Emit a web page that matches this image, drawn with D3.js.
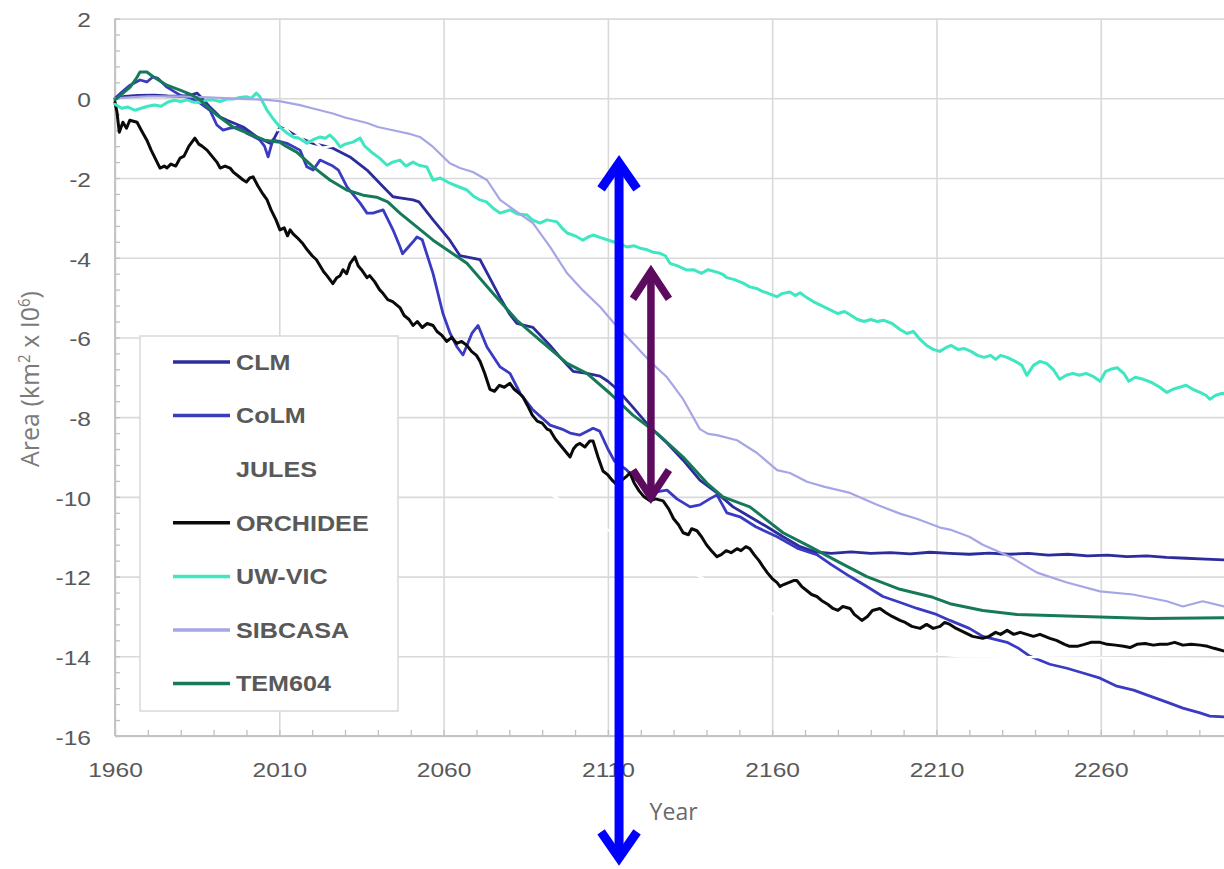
<!DOCTYPE html>
<html>
<head>
<meta charset="utf-8">
<script src="https://cdn.jsdelivr.net/npm/d3@7"></script>
<style>
  html, body { margin: 0; padding: 0; background: #ffffff; }
  svg { display: block; }
</style>
</head>
<body>
<svg id="chart" width="1224" height="869"></svg>
<script>
// ---- Data: simulated permafrost area change (km² x 10⁶), [year, value] ----
const seriesNames = ["CLM", "CoLM", "JULES", "ORCHIDEE", "UW-VIC", "SIBCASA", "TEM604"];

const clm = [[1960,0],[1963,0.05],[1967,0.07],[1972,0.08],[1976,0.06],[1980,0.05],[1983,0.08],[1985,0.13],[1986.5,0.0],
  [1988.9,-0.22],[1992,-0.47],[1994.1,-0.55],[1999,-0.72],[2003.2,-0.97],[2007.2,-1.13],[2008.5,-1.0],[2010.2,-0.72],
  [2012.3,-0.8],[2016.3,-1.0],[2020.3,-1.13],[2026.3,-1.25],[2031.5,-1.47],[2036.7,-1.8],[2041.6,-2.22],[2044.6,-2.47],
  [2046.7,-2.5],[2050.7,-2.55],[2052.5,-2.6],[2056.8,-3.05],[2061.9,-3.56],[2065,-3.95],[2068,-4.0],[2071.1,-4.05],
  [2074,-4.5],[2077.2,-5.0],[2080,-5.4],[2082.3,-5.65],[2087.2,-5.75],[2092.4,-6.2],[2096,-6.55],[2099.4,-6.85],
  [2103.6,-6.9],[2107.6,-6.97],[2110,-7.1],[2112.8,-7.3],[2117.6,-7.75],[2122.8,-8.25],[2128,-8.65],[2132.9,-9.08],
  [2138,-9.58],[2143.2,-9.9],[2148.1,-10.25],[2153.2,-10.5],[2158.4,-10.75],[2163.3,-11.0],[2168.5,-11.25],[2173,-11.38],
  [2178,-11.42],[2184,-11.38],[2190,-11.42],[2196,-11.4],[2202,-11.43],[2208,-11.39],[2214,-11.42],[2220,-11.44],
  [2226,-11.41],[2232,-11.44],[2238,-11.42],[2244,-11.46],[2250,-11.44],[2256,-11.48],[2262,-11.46],[2268,-11.5],
  [2274,-11.48],[2280,-11.52],[2286,-11.54],[2292,-11.56],[2297.5,-11.58],[2300,-11.58]];

const colm = [[1960,0],[1962,0.15],[1964.6,0.33],[1967.6,0.46],[1969.7,0.41],[1971.6,0.54],[1973.1,0.5],[1975.8,0.28],
  [1979.8,0.08],[1983,0.0],[1985.9,-0.12],[1988.9,-0.3],[1991,-0.67],[1992.9,-0.8],[1995,-0.75],[1998,-0.72],
  [2000.2,-0.88],[2002,-0.95],[2004.1,-1.05],[2005.5,-1.2],[2006.6,-1.47],[2007.5,-1.2],[2008.1,-1.05],[2010,-1.08],
  [2012.3,-1.13],[2016.3,-1.3],[2018.4,-1.72],[2020.3,-1.8],[2022.4,-1.55],[2026.3,-1.7],[2028,-1.8],[2030.6,-2.22],
  [2034.6,-2.63],[2036.7,-2.88],[2038.5,-2.88],[2041.6,-2.8],[2044.6,-3.3],[2046.7,-3.72],[2047.5,-3.9],[2050.7,-3.6],
  [2051.9,-3.48],[2053.5,-3.55],[2056.8,-4.4],[2059.8,-5.4],[2062,-5.9],[2064.1,-6.24],[2065.9,-6.44],[2068.6,-5.9],
  [2070.5,-5.7],[2073.2,-6.24],[2077.2,-6.74],[2080.2,-6.9],[2083.3,-7.4],[2087,-7.8],[2092.4,-8.2],[2096,-8.3],
  [2098.5,-8.4],[2101.5,-8.45],[2105.5,-8.28],[2107.5,-8.35],[2110,-8.8],[2112,-9.1],[2115.8,-9.33],[2119,-9.6],
  [2122.8,-9.9],[2128,-9.83],[2131,-10.05],[2135,-10.25],[2138,-10.2],[2141,-10.05],[2143.2,-9.95],[2146.2,-10.4],
  [2150.2,-10.5],[2155,-10.75],[2161.5,-11.0],[2168,-11.3],[2173.6,-11.45],[2178,-11.7],[2183.7,-12.0],[2188.8,-12.25],
  [2193.7,-12.5],[2199,-12.65],[2204.1,-12.8],[2210,-12.95],[2214.1,-13.1],[2220,-13.3],[2224.1,-13.5],[2231.5,-13.65],
  [2235,-13.8],[2238.5,-14.0],[2244.5,-14.2],[2249.7,-14.3],[2254.6,-14.42],[2259.8,-14.55],[2264.9,-14.75],
  [2270,-14.85],[2275,-15.0],[2280.1,-15.15],[2285,-15.3],[2290.2,-15.42],[2293.2,-15.5],[2297.5,-15.52],[2300,-15.53]];

// JULES is plotted in white; null marks the stretch where its course is not shown
const jules = [[2009.5,-0.8],[2012,-0.76],[2014,-0.95],[2016,-0.93],[2018,-1.1],[2020.5,-1.07],[2023,-1.24],[2026,-1.2],
  [2030,null],[2090,null],[2092,-9.9],[2094,-10.0],[2105,-10.6],[2116,-11.1],[2127,-11.55],[2138,-12.0],
  [2150,-12.55],[2162,-13.0],[2175,-13.4],[2190,-13.7],[2205,-13.9],[2217,-14.0],[2240,-14.02],[2270,-14.05],[2300,-14.08]];

const orchidee = [[1960,-0.1],[1960.6,-0.35],[1961.3,-0.85],[1962.4,-0.6],[1963.5,-0.75],[1964.5,-0.55],[1966.7,-0.6],
  [1968,-0.8],[1969.7,-1.05],[1971,-1.3],[1972.5,-1.55],[1973.7,-1.75],[1975,-1.7],[1975.8,-1.75],[1977,-1.65],
  [1978.5,-1.7],[1979.8,-1.5],[1981,-1.45],[1982.5,-1.2],[1984.3,-1.0],[1985.5,-1.15],[1986.5,-1.2],[1988,-1.3],
  [1989.5,-1.45],[1991,-1.6],[1992,-1.75],[1993.5,-1.7],[1995,-1.75],[1996,-1.85],[1997.5,-1.95],[1999,-2.05],
  [2000,-2.1],[2001,-2.0],[2002,-1.97],[2003.5,-2.2],[2005,-2.4],[2006.3,-2.55],[2007.5,-2.8],[2009,-3.05],
  [2010.2,-3.3],[2011.5,-3.25],[2012.5,-3.45],[2013.3,-3.3],[2014.2,-3.4],[2015.5,-3.5],[2017.2,-3.65],[2018.5,-3.8],
  [2020,-3.95],[2021.3,-4.05],[2022.4,-4.2],[2023.5,-4.35],[2024.5,-4.45],[2026.3,-4.65],[2027.5,-4.5],[2028.5,-4.45],
  [2029.4,-4.3],[2030.5,-4.4],[2031.5,-4.15],[2033,-3.98],[2034,-4.2],[2035,-4.3],[2036.7,-4.5],[2037.5,-4.45],
  [2039,-4.6],[2040.5,-4.8],[2041.6,-4.9],[2043,-5.05],[2044.5,-5.1],[2046.7,-5.25],[2048,-5.45],[2049.5,-5.55],
  [2050.7,-5.7],[2052,-5.6],[2053.5,-5.75],[2055,-5.65],[2056.8,-5.7],[2058,-5.85],[2059.5,-5.95],[2061,-6.1],
  [2062.5,-6.0],[2064,-6.15],[2065.5,-6.1],[2067.1,-6.2],[2068.5,-6.35],[2070,-6.45],[2071.1,-6.6],[2072.5,-6.9],
  [2074.1,-7.3],[2075.5,-7.35],[2077,-7.2],[2078.5,-7.25],[2080.2,-7.15],[2081.5,-7.3],[2083,-7.4],[2084.2,-7.5],
  [2085.5,-7.7],[2087,-7.95],[2088.5,-8.1],[2090,-8.15],[2091.5,-8.3],[2092.4,-8.33],[2094,-8.55],[2095.5,-8.7],
  [2097,-8.85],[2098.5,-9.0],[2099.5,-8.8],[2100.5,-8.7],[2101.5,-8.66],[2103,-8.75],[2104.5,-8.6],[2105.5,-8.6],
  [2107,-9.0],[2108.5,-9.35],[2110,-9.45],[2111.5,-9.6],[2112.8,-9.7],[2114,-9.6],[2115.5,-9.5],[2116.7,-9.4],
  [2118,-9.65],[2119.5,-9.85],[2121,-10.0],[2122.8,-10.1],[2124.5,-10.05],[2126.8,-10.1],[2128.5,-10.3],[2130,-10.55],
  [2131.5,-10.7],[2132.9,-10.9],[2134.5,-10.95],[2135.5,-10.8],[2137.1,-10.85],[2138.5,-11.0],[2140,-11.2],
  [2141.5,-11.35],[2143.2,-11.5],[2144.5,-11.45],[2146,-11.35],[2147.5,-11.4],[2149.3,-11.3],[2150.5,-11.35],
  [2152,-11.25],[2153.2,-11.3],[2154.5,-11.45],[2156,-11.6],[2157.2,-11.75],[2158.5,-11.9],[2160,-12.05],
  [2161.5,-12.15],[2162.4,-12.25],[2163.5,-12.2],[2165,-12.15],[2166.5,-12.1],[2167.5,-12.1],[2169,-12.25],
  [2170.5,-12.35],[2172,-12.45],[2173.6,-12.5],[2175,-12.6],[2177,-12.7],[2178.5,-12.8],[2180,-12.85],[2181.5,-12.75],
  [2183.7,-12.8],[2185,-12.95],[2187.3,-13.1],[2189,-13.0],[2190.5,-12.85],[2192.8,-12.8],[2194.5,-12.9],[2196.5,-13.0],
  [2198.9,-13.1],[2200.5,-13.15],[2202.5,-13.25],[2205,-13.3],[2207,-13.2],[2209,-13.3],[2211.1,-13.25],[2212.5,-13.15],
  [2214.1,-13.2],[2216,-13.3],[2218.5,-13.4],[2221,-13.5],[2224.1,-13.55],[2226,-13.5],[2228,-13.4],[2229.5,-13.45],
  [2231.5,-13.35],[2233.5,-13.45],[2235.5,-13.4],[2237.5,-13.45],[2239.5,-13.5],[2241.5,-13.45],[2244.5,-13.55],
  [2246.5,-13.6],[2249,-13.7],[2250.5,-13.75],[2252.8,-13.75],[2255,-13.7],[2257,-13.65],[2259.8,-13.65],[2262,-13.7],
  [2264.5,-13.72],[2267,-13.75],[2268.9,-13.78],[2271,-13.7],[2273.5,-13.68],[2276,-13.72],[2278,-13.7],[2280.1,-13.7],
  [2282.5,-13.65],[2285,-13.72],[2287.5,-13.7],[2290.3,-13.72],[2292.5,-13.75],[2294.5,-13.8],[2297.6,-13.87],[2300,-13.9]];

const uwvic = [[1960,-0.15],[1962,-0.25],[1964,-0.22],[1966,-0.3],[1968,-0.25],[1970,-0.2],[1972,-0.17],[1974,-0.2],
  [1976,-0.1],[1978,-0.05],[1980,-0.08],[1982,-0.04],[1984,-0.1],[1986,-0.1],[1988,-0.04],[1990,-0.04],[1992,-0.08],
  [1994,-0.02],[1996,-0.02],[1998,0.02],[2000,0.04],[2001.5,0.0],[2003,0.13],[2004,0.05],[2006.3,-0.3],[2008,-0.5],
  [2010.2,-0.72],[2012,-0.85],[2014.2,-0.97],[2016,-1.0],[2018.4,-1.13],[2020,-1.05],[2022.4,-0.97],[2024,-1.0],
  [2025.4,-0.92],[2027,-1.05],[2028.5,-1.22],[2030,-1.15],[2032.4,-1.1],[2034.6,-1.0],[2036,-1.2],[2038.5,-1.38],
  [2040.5,-1.5],[2042.8,-1.68],[2044.5,-1.6],[2046.7,-1.55],[2048.5,-1.7],[2050.7,-1.6],[2052.5,-1.68],[2054.9,-1.72],
  [2056.8,-2.05],[2059,-2.0],[2061.9,-2.13],[2064,-2.2],[2067.1,-2.3],[2069,-2.45],[2071.1,-2.55],[2073,-2.6],
  [2075,-2.75],[2077.2,-2.88],[2080.2,-2.8],[2082.5,-2.9],[2085.4,-2.93],[2087,-3.05],[2089.3,-3.13],[2091.5,-3.05],
  [2094.5,-3.1],[2096,-3.25],[2097.6,-3.38],[2100,-3.45],[2102.4,-3.56],[2104,-3.48],[2105.5,-3.43],[2108,-3.5],
  [2111.6,-3.6],[2113.5,-3.65],[2115.8,-3.73],[2118,-3.7],[2119.8,-3.76],[2122,-3.8],[2123.7,-3.86],[2125.9,-3.89],
  [2127.5,-3.95],[2128.9,-4.14],[2131,-4.2],[2134.1,-4.31],[2136,-4.3],[2138.5,-4.39],[2140.5,-4.3],[2143.2,-4.36],
  [2145,-4.42],[2146.2,-4.5],[2148.5,-4.55],[2151,-4.63],[2153.2,-4.73],[2155.5,-4.78],[2157.2,-4.85],[2158.4,-4.88],
  [2160,-4.93],[2161.5,-4.98],[2163,-4.9],[2165.4,-4.86],[2167,-4.95],[2168.5,-4.88],[2170.5,-5.0],[2172.5,-5.1],
  [2175,-5.2],[2177.5,-5.3],[2180,-5.4],[2182,-5.35],[2183.7,-5.43],[2186,-5.55],[2188,-5.6],[2190,-5.55],[2192,-5.6],
  [2194,-5.57],[2196.5,-5.65],[2198.9,-5.8],[2201,-5.9],[2203,-5.85],[2205,-6.05],[2207,-6.2],[2209,-6.3],[2211,-6.35],
  [2213,-6.25],[2214.5,-6.2],[2216.5,-6.3],[2218.5,-6.28],[2220.5,-6.35],[2222.5,-6.45],[2224.5,-6.5],[2226.5,-6.45],
  [2228,-6.55],[2229.5,-6.45],[2231.5,-6.5],[2234,-6.6],[2236,-6.7],[2237.5,-6.95],[2239.5,-6.7],[2241.5,-6.6],
  [2243.5,-6.65],[2245.5,-6.8],[2247.5,-7.05],[2249.5,-6.95],[2251.5,-6.9],[2253.5,-6.95],[2255.5,-6.9],[2257.5,-6.97],
  [2259.8,-7.1],[2261.5,-6.85],[2263,-6.8],[2265,-6.76],[2267,-6.9],[2268.5,-7.1],[2270.5,-7.0],[2273,-7.05],
  [2275.5,-7.13],[2278,-7.25],[2280.1,-7.38],[2282,-7.3],[2284,-7.25],[2286,-7.2],[2288,-7.3],[2290.2,-7.38],
  [2292,-7.45],[2293.2,-7.55],[2295,-7.45],[2297,-7.4],[2300,-7.5]];

const sibcasa = [[1960,0],[1965.5,0.03],[1970,0.05],[1975,0.05],[1980,0.05],[1985.9,0.03],[1990,0.02],[1995,0.0],
  [2000,-0.02],[2006.3,-0.04],[2010,-0.07],[2016.3,-0.17],[2020,-0.25],[2026.3,-0.38],[2030,-0.48],[2036.7,-0.62],
  [2040,-0.72],[2046.7,-0.84],[2050,-0.9],[2052.8,-0.97],[2056.8,-1.22],[2061.9,-1.63],[2065,-1.75],[2068.9,-1.85],
  [2073.2,-2.05],[2077.2,-2.55],[2082.3,-2.85],[2087.2,-3.13],[2092.4,-3.73],[2097.6,-4.39],[2102.4,-4.82],
  [2107.6,-5.23],[2112.8,-5.73],[2117.6,-6.14],[2122.8,-6.6],[2128,-7.0],[2132.9,-7.55],[2138,-8.3],[2140.5,-8.42],
  [2143.2,-8.45],[2149.3,-8.58],[2155.4,-8.9],[2161.5,-9.33],[2165.4,-9.4],[2170.6,-9.62],[2176,-9.75],[2183.7,-9.9],
  [2191.9,-10.2],[2198.9,-10.42],[2204,-10.55],[2211.1,-10.77],[2214.1,-10.82],[2220,-11.0],[2224.1,-11.2],
  [2232.4,-11.5],[2240.6,-11.9],[2249.7,-12.15],[2259.8,-12.37],[2269.8,-12.45],[2280.1,-12.62],[2285,-12.75],
  [2291,-12.62],[2297.5,-12.75],[2300,-12.78]];

const tem604 = [[1960,-0.04],[1962,0.1],[1964.6,0.28],[1966.5,0.5],[1967.6,0.66],[1969.7,0.66],[1971.6,0.54],
  [1975.8,0.33],[1980,0.2],[1983,0.1],[1985.9,-0.04],[1988,-0.2],[1991,-0.42],[1995.9,-0.72],[2000.5,-0.88],
  [2005.5,-1.05],[2010.2,-1.1],[2012,-1.2],[2015.3,-1.35],[2020.3,-1.72],[2025.4,-2.05],[2030.5,-2.3],[2035.5,-2.43],
  [2039.6,-2.48],[2043,-2.6],[2046.7,-2.88],[2056.8,-3.56],[2067.1,-4.14],[2075,-4.89],[2082.3,-5.57],[2089.3,-6.07],
  [2097.6,-6.65],[2103.6,-6.9],[2110.6,-7.4],[2117.6,-7.95],[2124.9,-8.4],[2132.9,-9.0],[2140.2,-9.66],[2145,-10.0],
  [2153.2,-10.25],[2163.3,-10.9],[2171.5,-11.25],[2180.6,-11.65],[2188.8,-12.0],[2198.9,-12.32],[2208.9,-12.52],
  [2214.1,-12.68],[2224.1,-12.85],[2234.5,-12.95],[2254.6,-13.0],[2275,-13.05],[2297.5,-13.03],[2300,-13.03]];

const seriesValues = [clm, colm, jules, orchidee, uwvic, sibcasa, tem604];

// Axis ticks
const xTickYears = [1960, 2010, 2060, 2110, 2160, 2210, 2260];
const yTickValues = [-16, -14, -12, -10, -8, -6, -4, -2, 0, 2];

// Range annotations: year, upper end value, lower end value
const rangeArrowYears = [2113.4, 2123.1];
const rangeArrowTops = [-1.42, -4.18];
const rangeArrowBottoms = [-19.26, -10.18];

// ---- Styles ----
const seriesColors = ["#2c2c9c", "#3a3ac2", "#ffffff", "#0a0a0a", "#3fe6c2", "#a6a6e6", "#15795a"];
const seriesWidths = [2.8, 2.8, 2.4, 3, 3, 2.2, 3];
const arrowColors = ["#0000ff", "#5c0b5f"];
const arrowWidths = [9, 7.5];

const svg = d3.select("#chart");
svg.append("rect").attr("width", 1224).attr("height", 869).attr("fill", "#ffffff");

const pLeft = 115, pRight = 1232.2, pTop = 18.6, pBottom = 736;
const x = d3.scaleLinear().domain([1960, 2300]).range([pLeft, pRight]);
const y = d3.scaleLinear().domain([-16, 2]).range([pBottom, pTop]);

const TXT = "#595959";
const STRETCH = 1.17;

// Horizontal gridlines + y labels
const yAxis = d3.axisLeft(y).tickValues(yTickValues).tickSize(-(pRight - pLeft)).tickFormat(d => String(d));
const gy = svg.append("g").attr("transform", `translate(${pLeft},0)`).call(yAxis);
gy.select(".domain").remove();
gy.selectAll(".tick line").attr("stroke", "#d9d9d9").attr("stroke-width", 1.6);
gy.selectAll(".tick text")
  .attr("x", 0).attr("dy", "0.35em")
  .attr("transform", `translate(-24,1) scale(${STRETCH},1)`)
  .attr("fill", TXT).attr("font-family", "'Liberation Sans', Arial, sans-serif").attr("font-size", 21);

// Vertical gridlines + x labels
const xAxis = d3.axisBottom(x).tickValues(xTickYears).tickSize(-(pBottom - pTop)).tickPadding(26).tickFormat(d => String(d));
const gx = svg.append("g").attr("transform", `translate(0,${pBottom})`).call(xAxis);
gx.select(".domain").remove();
gx.selectAll(".tick line").attr("stroke", "#d9d9d9").attr("stroke-width", 1.6);
gx.selectAll(".tick text")
  .attr("transform", `scale(${STRETCH},1)`)
  .attr("fill", TXT).attr("font-family", "'Liberation Sans', Arial, sans-serif").attr("font-size", 21);

// Minor ticks
const gMinorY = svg.append("g").attr("transform", `translate(${pLeft},0)`)
  .call(d3.axisLeft(y).tickValues(d3.range(-16, 2.001, 0.4)).tickSize(-5).tickFormat(""));
gMinorY.select(".domain").remove();
gMinorY.selectAll("line").attr("stroke", "#bfbfbf").attr("stroke-width", 1.3);
const gMinorX = svg.append("g").attr("transform", `translate(0,${pBottom})`)
  .call(d3.axisBottom(x).tickValues(d3.range(1960, 2300, 10)).tickSize(-6).tickFormat(""));
gMinorX.select(".domain").remove();
gMinorX.selectAll("line").attr("stroke", "#bfbfbf").attr("stroke-width", 1.3);

// Axis lines
svg.append("line").attr("x1", pLeft).attr("x2", pLeft).attr("y1", pTop).attr("y2", pBottom)
  .attr("stroke", "#c4c4c4").attr("stroke-width", 2);
svg.append("line").attr("x1", pLeft).attr("x2", pRight).attr("y1", pBottom).attr("y2", pBottom)
  .attr("stroke", "#c4c4c4").attr("stroke-width", 2);

// Series lines
const line = d3.line().defined(d => d[1] != null).x(d => x(d[0])).y(d => y(d[1]));
svg.append("g").selectAll("path").data(seriesValues).join("path")
  .attr("d", line)
  .attr("fill", "none")
  .attr("stroke", (d, i) => seriesColors[i])
  .attr("stroke-width", (d, i) => seriesWidths[i])
  .attr("stroke-linejoin", "round")
  .attr("stroke-linecap", "round");

// Legend
const legend = svg.append("g");
legend.append("rect").attr("x", 140).attr("y", 336).attr("width", 258).attr("height", 375)
  .attr("fill", "#ffffff").attr("stroke", "#d9d9d9").attr("stroke-width", 1.5);
const rows = legend.selectAll("g.row").data(seriesNames).join("g")
  .attr("class", "row")
  .attr("transform", (d, i) => `translate(0,${362 + i * 53.6})`);
rows.append("line").attr("x1", 173).attr("x2", 230).attr("y1", 0).attr("y2", 0)
  .attr("stroke", (d, i) => seriesColors[i]).attr("stroke-width", 3.5);
rows.append("text").text(d => d)
  .attr("transform", `translate(236,0) scale(${STRETCH},1)`)
  .attr("dy", "0.36em")
  .attr("fill", TXT).attr("font-weight", "bold")
  .attr("font-family", "'Liberation Sans', Arial, sans-serif").attr("font-size", 21.5);

// Axis titles
const yTitle = svg.append("text")
  .attr("transform", `translate(39,379) rotate(-90) scale(1,1.05)`)
  .attr("text-anchor", "middle").attr("fill", "#7a7a7a")
  .attr("font-family", "'Open Sans', 'DejaVu Sans', sans-serif").attr("font-size", 25);
yTitle.append("tspan").text("Area (km");
yTitle.append("tspan").text("2").attr("font-size", 15).attr("dy", -9);
yTitle.append("tspan").text(" x I0").attr("dy", 9);
yTitle.append("tspan").text("6").attr("font-size", 15).attr("dy", -9);
yTitle.append("tspan").text(")").attr("dy", 9);

svg.append("text").text("Year")
  .attr("x", (pLeft + pRight) / 2).attr("y", 820)
  .attr("text-anchor", "middle").attr("fill", "#6a6a6a")
  .attr("font-family", "'Open Sans', 'DejaVu Sans', sans-serif").attr("font-size", 23);

// Double-headed range arrows
const headHalf = 18, headLen = 34;
rangeArrowYears.forEach((yr, i) => {
  const ax = x(yr), yTop = y(rangeArrowTops[i]), yBot = y(rangeArrowBottoms[i]);
  const w = arrowWidths[i], inset = w * 0.9;
  const g = svg.append("g").attr("fill", "none").attr("stroke", arrowColors[i]).attr("stroke-width", w);
  g.append("line").attr("x1", ax).attr("x2", ax).attr("y1", yTop + inset).attr("y2", yBot - inset);
  g.append("path").attr("stroke-linejoin", "miter")
    .attr("d", `M${ax - headHalf},${yTop + headLen} L${ax},${yTop + inset} L${ax + headHalf},${yTop + headLen}`);
  g.append("path").attr("stroke-linejoin", "miter")
    .attr("d", `M${ax - headHalf},${yBot - headLen} L${ax},${yBot - inset} L${ax + headHalf},${yBot - headLen}`);
});
</script>
</body>
</html>
